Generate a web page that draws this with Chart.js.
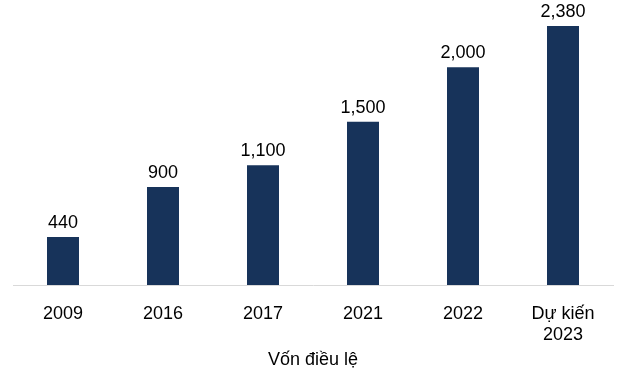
<!DOCTYPE html>
<html lang="vi">
<head>
    <meta charset="UTF-8">
    <title>Vốn điều lệ</title>
    <style>
        body{
            margin: 0;
            background-color: #ffffff;
        }
        .wrap{
            width: 627px;
            height: 385px;
        }
    </style>
</head>
<body>
    <div class="wrap"><canvas id="chart"></canvas></div>

    <script src="https://cdn.jsdelivr.net/npm/chart.js"></script>
    <script>
        // chart data
        const years = ['2009', '2016', '2017', '2021', '2022', ['Dự kiến', '2023']];
        const capital = [440, 900, 1100, 1500, 2000, 2380];
        const seriesName = 'Vốn điều lệ';

        const barColor = '#17335a';
        const fontFamily = '"Liberation Sans", Arial, sans-serif';

        // draw value labels on top of bars
        const valueLabels = {
            id: 'valueLabels',
            afterDatasetsDraw(chart) {
                const ctx = chart.ctx;
                const meta = chart.getDatasetMeta(0);
                ctx.save();
                ctx.font = '18px ' + fontFamily;
                ctx.fillStyle = '#000000';
                ctx.textAlign = 'center';
                ctx.textBaseline = 'bottom';
                meta.data.forEach((bar, i) => {
                    ctx.fillText(capital[i].toLocaleString('en-US'), bar.x, bar.y - 5);
                });
                ctx.restore();
            }
        };

        const ctx = document.getElementById('chart').getContext('2d');
        new Chart(ctx, {
            type: 'bar',
            data: {
                labels: years,
                datasets: [{
                    label: seriesName,
                    data: capital,
                    backgroundColor: barColor,
                    barPercentage: 0.64,
                    categoryPercentage: 0.5
                }]
            },
            options: {
                responsive: true,
                maintainAspectRatio: false,
                animation: false,
                layout: {
                    padding: { left: 13, right: 14, top: 2, bottom: 14 }
                },
                plugins: {
                    legend: { display: false },
                    tooltip: { enabled: false }
                },
                scales: {
                    x: {
                        grid: { display: false, drawTicks: false },
                        border: { color: '#d9d9d9', width: 1 },
                        ticks: {
                            color: '#000000',
                            padding: 18,
                            font: { family: fontFamily, size: 18, lineHeight: 1.2 },
                            maxRotation: 0
                        },
                        title: {
                            display: true,
                            text: seriesName,
                            color: '#000000',
                            font: { family: fontFamily, size: 18 },
                            padding: { top: 0, bottom: 0 }
                        },
                        afterFit(scale) {
                            scale.height = 86;
                        }
                    },
                    y: {
                        display: false,
                        min: 0,
                        max: 2600
                    }
                }
            },
            plugins: [valueLabels]
        });
    </script>
</body>
</html>
